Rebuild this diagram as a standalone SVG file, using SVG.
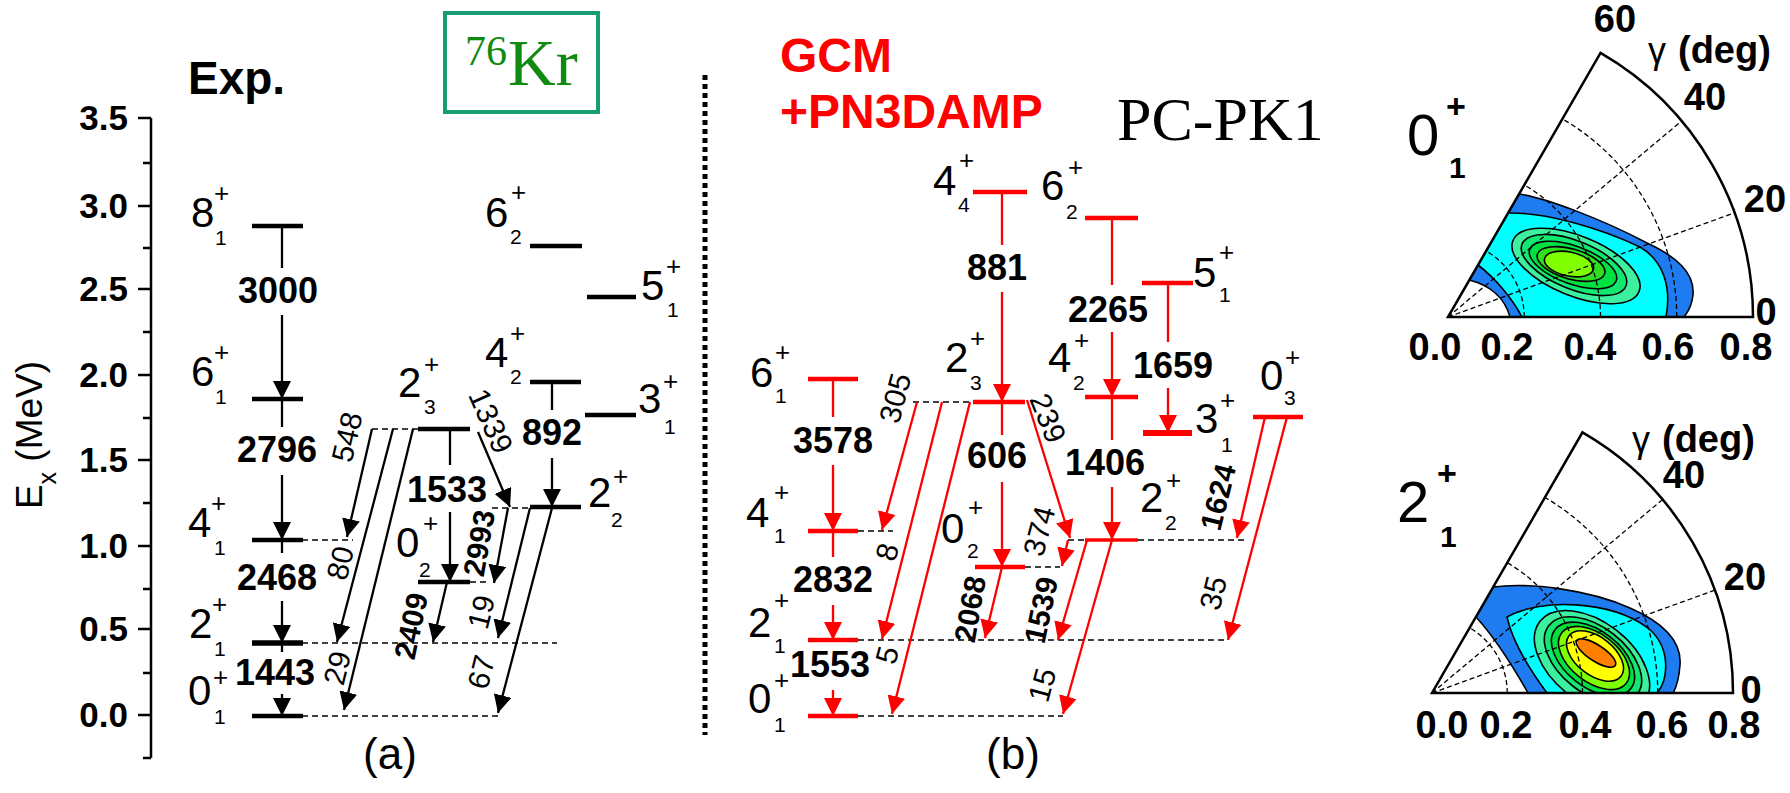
<svg xmlns="http://www.w3.org/2000/svg" width="1790" height="793" viewBox="0 0 1790 793">
<style>
text{font-family:"Liberation Sans",Arial,sans-serif;fill:#000}
.b{font-weight:bold}
.ax{stroke:#000;stroke-width:2.5;fill:none}
.lk{stroke:#000;stroke-width:4.5}
.lr{stroke:#f00;stroke-width:4.5}
.tk{stroke:#000;stroke-width:2.3;fill:none}
.tr{stroke:#f00;stroke-width:2.3;fill:none}
.ak{stroke:#000;stroke-width:2.3;fill:none;marker-end:url(#hk)}
.ar{stroke:#f00;stroke-width:2.3;fill:none;marker-end:url(#hr)}
.ds{stroke:#000;stroke-width:1.5;stroke-dasharray:6 4}
.big{font-size:42px}
.sp{font-size:26px}
.sb{font-size:21px}
.tl{font-size:36px;font-weight:bold;text-anchor:middle}
.rl{font-size:30px;text-anchor:middle}
.tick{font-size:35px;font-weight:bold;text-anchor:end}
.grid{stroke:#000;stroke-width:1.3;stroke-dasharray:5 3;fill:none}
.cl{stroke:#000;stroke-width:1.6}
.pl{font-size:38px;font-weight:bold;text-anchor:middle}
.sec{stroke:#000;stroke-width:2.5;fill:none}
.sf{font-family:"Liberation Serif","Times New Roman",serif}
.gr{fill:#118a11}
</style>
<defs>
<marker id="hk" markerUnits="userSpaceOnUse" markerWidth="18" markerHeight="18" viewBox="0 0 18 18" refX="18" refY="9" orient="auto"><path d="M0,0 L18,9 L0,18 Z" fill="#000"/></marker>
<marker id="hr" markerUnits="userSpaceOnUse" markerWidth="18" markerHeight="18" viewBox="0 0 18 18" refX="18" refY="9" orient="auto"><path d="M0,0 L18,9 L0,18 Z" fill="#f00"/></marker>
<clipPath id="c1"><path d="M1448,317 L1753,317 A305,305 0 0 0 1600.5,52.9 Z"/></clipPath>
<clipPath id="c2"><path d="M1432,693 L1733,693 A301,301 0 0 0 1582.5,432.3 Z"/></clipPath>
</defs>
<rect width="1790" height="793" fill="#fff"/>

<g id="axis">
<line class="ax" x1="151" y1="118" x2="151" y2="758"/>
<path class="ax" d="M138,118H151M143,163H151M138,206H151M143,248H151M138,289H151M143,332H151M138,375H151M143,418H151M138,460H151M143,503H151M138,546H151M143,589H151M138,629H151M143,673H151M138,715H151M143,758H151"/>
<text class="tick" x="128" y="130">3.5</text>
<text class="tick" x="128" y="218">3.0</text>
<text class="tick" x="128" y="301">2.5</text>
<text class="tick" x="128" y="387">2.0</text>
<text class="tick" x="128" y="472">1.5</text>
<text class="tick" x="128" y="558">1.0</text>
<text class="tick" x="128" y="641">0.5</text>
<text class="tick" x="128" y="727">0.0</text>
<text transform="translate(42,435) rotate(-90)" text-anchor="middle" font-size="37">E<tspan font-size="25" dy="14">x</tspan><tspan dy="-14"> (MeV)</tspan></text>
</g>

<text class="b" x="188" y="94" font-size="46">Exp.</text>
<g id="kr-box">
<rect x="445" y="13" width="153" height="99" fill="none" stroke="#179c74" stroke-width="4"/>
<text class="sf gr" x="465" y="65" font-size="42">76</text>
<text class="sf gr" x="508" y="85" font-size="66">Kr</text>
</g>
<line id="separator" x1="705" y1="75" x2="705" y2="735" stroke="#000" stroke-width="5" stroke-dasharray="5 4"/>
<text class="b" x="780" y="72" font-size="48" style="fill:#f00">GCM</text>
<text class="b" x="780" y="128" font-size="48" style="fill:#f00">+PN3DAMP</text>
<text class="sf" x="1117" y="140" font-size="62">PC-PK1</text>
<text x="390" y="769" font-size="44" text-anchor="middle">(a)</text>
<text x="1013" y="769" font-size="44" text-anchor="middle">(b)</text>

<g id="connectors">
<path class="ds" d="M302,540H353M302,643H557M302,716H498M372,429H418M470,582H487M492,508H530"/>
<line class="tk" x1="282" y1="226" x2="282" y2="268"/><line class="ak" x1="282" y1="315" x2="282" y2="399"/>
<line class="tk" x1="282" y1="399" x2="282" y2="427"/><line class="ak" x1="282" y1="475" x2="282" y2="540"/>
<line class="tk" x1="282" y1="540" x2="282" y2="553"/><line class="ak" x1="282" y1="601" x2="282" y2="643"/>
<line class="tk" x1="282" y1="643" x2="282" y2="652"/><line class="ak" x1="282" y1="694" x2="282" y2="716"/>
<line class="tk" x1="450" y1="429" x2="450" y2="465"/><line class="ak" x1="450" y1="512" x2="450" y2="582"/>
<line class="tk" x1="552" y1="382" x2="552" y2="410"/><line class="ak" x1="552" y1="458" x2="552" y2="507"/>
<text class="tl" x="278" y="303">3000</text>
<text class="tl" x="277" y="462">2796</text>
<text class="tl" x="277" y="590">2468</text>
<text class="tl" x="275" y="685">1443</text>
<text class="tl" x="447" y="502">1533</text>
<text class="tl" x="552" y="445">892</text>
<line class="ak" x1="372" y1="429" x2="347" y2="537"/>
<line class="ak" x1="393" y1="429" x2="337" y2="642"/>
<line class="ak" x1="413" y1="429" x2="344" y2="710"/>
<line class="ak" x1="478" y1="432" x2="510" y2="507"/>
<line class="ak" x1="508" y1="508" x2="494" y2="583"/>
<line class="ak" x1="447" y1="582" x2="433" y2="642"/>
<line class="ak" x1="530" y1="508" x2="498" y2="638"/>
<line class="ak" x1="552" y1="508" x2="498" y2="713"/>
<text class="rl" transform="translate(347,437) rotate(-77)" dy=".35em">548</text>
<text class="rl" transform="translate(340,563) rotate(-76)" dy=".35em">80</text>
<text class="rl" transform="translate(337,668) rotate(-76)" dy=".35em">29</text>
<text class="rl" transform="translate(491,421) rotate(66)" dy=".35em">1339</text>
<text class="rl b" transform="translate(479,543) rotate(-80)" dy=".35em">2993</text>
<text class="rl b" transform="translate(411,626) rotate(-78)" dy=".35em">2409</text>
<text class="rl" transform="translate(481,612) rotate(-76)" dy=".35em">19</text>
<text class="rl" transform="translate(481,672) rotate(-76)" dy=".35em">67</text>

<path class="ds" d="M858,531H893M858,640H1228M858,716H1063M913,402H973M1025,567H1060M1068,540H1248"/>
<line class="tr" x1="833" y1="379" x2="833" y2="417"/><line class="ar" x1="833" y1="465" x2="833" y2="531"/>
<line class="tr" x1="833" y1="531" x2="833" y2="557"/><line class="ar" x1="833" y1="605" x2="833" y2="640"/>
<line class="ar" x1="833" y1="690" x2="833" y2="716"/>
<line class="tr" x1="1002" y1="192" x2="1002" y2="245"/><line class="ar" x1="1002" y1="292" x2="1002" y2="402"/>
<line class="tr" x1="1002" y1="402" x2="1002" y2="435"/><line class="ar" x1="1002" y1="482" x2="1002" y2="567"/>
<line class="tr" x1="1112" y1="218" x2="1112" y2="285"/><line class="ar" x1="1112" y1="332" x2="1112" y2="397"/>
<line class="tr" x1="1112" y1="397" x2="1112" y2="440"/><line class="ar" x1="1112" y1="487" x2="1112" y2="540"/>
<line class="tr" x1="1168" y1="283" x2="1168" y2="342"/><line class="ar" x1="1168" y1="388" x2="1168" y2="433"/>
<text class="tl" x="833" y="453">3578</text>
<text class="tl" x="833" y="592">2832</text>
<text class="tl" x="830" y="677">1553</text>
<text class="tl" x="997" y="280">881</text>
<text class="tl" x="997" y="468">606</text>
<text class="tl" x="1108" y="322">2265</text>
<text class="tl" x="1105" y="475">1406</text>
<text class="tl" x="1173" y="378">1659</text>
<line class="ar" x1="917" y1="402" x2="882" y2="530"/>
<line class="ar" x1="942" y1="402" x2="882" y2="639"/>
<line class="ar" x1="970" y1="402" x2="892" y2="714"/>
<line class="ar" x1="1027" y1="400" x2="1070" y2="538"/>
<line class="ar" x1="1068" y1="540" x2="1062" y2="566"/>
<line class="ar" x1="1002" y1="567" x2="985" y2="638"/>
<line class="ar" x1="1087" y1="540" x2="1058" y2="640"/>
<line class="ar" x1="1112" y1="540" x2="1063" y2="714"/>
<line class="ar" x1="1265" y1="417" x2="1237" y2="538"/>
<line class="ar" x1="1287" y1="417" x2="1228" y2="640"/>
<text class="rl" transform="translate(895,398) rotate(-75)" dy=".35em">305</text>
<text class="rl" transform="translate(887,552) rotate(-75)" dy=".35em">8</text>
<text class="rl" transform="translate(887,655) rotate(-75)" dy=".35em">5</text>
<text class="rl" transform="translate(1048,418) rotate(68)" dy=".35em">239</text>
<text class="rl" transform="translate(1039,531) rotate(-75)" dy=".35em">374</text>
<text class="rl b" transform="translate(970,609) rotate(-80)" dy=".35em">2068</text>
<text class="rl b" transform="translate(1041,610) rotate(-78)" dy=".35em">1539</text>
<text class="rl" transform="translate(1042,685) rotate(-75)" dy=".35em">15</text>
<text class="rl b" transform="translate(1218,497) rotate(-76)" dy=".35em">1624</text>
<text class="rl" transform="translate(1213,593) rotate(-76)" dy=".35em">35</text>
</g>

<g id="e81"><line class="lk" x1="252" y1="226" x2="303" y2="226"/><text class="big" x="191" y="227">8</text><text class="sp" x="214" y="202">+</text><text class="sb" x="215" y="245">1</text></g>
<g id="e61"><line class="lk" x1="252" y1="399" x2="303" y2="399"/><text class="big" x="191" y="386">6</text><text class="sp" x="214" y="361">+</text><text class="sb" x="215" y="404">1</text></g>
<g id="e41"><line class="lk" x1="252" y1="540" x2="303" y2="540"/><text class="big" x="188" y="537">4</text><text class="sp" x="211" y="512">+</text><text class="sb" x="214" y="555">1</text></g>
<g id="e21"><line class="lk" x1="252" y1="643" x2="303" y2="643" style="stroke-width:5.5"/><text class="big" x="189" y="638">2</text><text class="sp" x="212" y="613">+</text><text class="sb" x="214" y="656">1</text></g>
<g id="e01"><line class="lk" x1="252" y1="716" x2="303" y2="716"/><text class="big" x="188" y="705">0</text><text class="sp" x="213" y="686">+</text><text class="sb" x="214" y="724">1</text></g>
<g id="e23"><line class="lk" x1="418" y1="429" x2="470" y2="429"/><text class="big" x="398" y="397">2</text><text class="sp" x="424" y="373">+</text><text class="sb" x="424" y="414">3</text></g>
<g id="e02"><line class="lk" x1="418" y1="582" x2="470" y2="582"/><text class="big" x="396" y="557">0</text><text class="sp" x="423" y="532">+</text><text class="sb" x="419" y="577">2</text></g>
<g id="e62"><line class="lk" x1="530" y1="246" x2="582" y2="246"/><text class="big" x="485" y="227">6</text><text class="sp" x="511" y="201">+</text><text class="sb" x="510" y="244">2</text></g>
<g id="e42"><line class="lk" x1="530" y1="382" x2="581" y2="382"/><text class="big" x="485" y="367">4</text><text class="sp" x="510" y="342">+</text><text class="sb" x="510" y="384">2</text></g>
<g id="e22"><line class="lk" x1="530" y1="507" x2="581" y2="507"/><text class="big" x="588" y="507">2</text><text class="sp" x="613" y="485">+</text><text class="sb" x="611" y="527">2</text></g>
<g id="e51"><line class="lk" x1="587" y1="297" x2="636" y2="297"/><text class="big" x="641" y="300">5</text><text class="sp" x="666" y="275">+</text><text class="sb" x="667" y="317">1</text></g>
<g id="e31"><line class="lk" x1="585" y1="415" x2="636" y2="415"/><text class="big" x="638" y="413">3</text><text class="sp" x="663" y="390">+</text><text class="sb" x="664" y="434">1</text></g>

<g id="t61"><line class="lr" x1="808" y1="379" x2="858" y2="379"/><text class="big" x="750" y="387">6</text><text class="sp" x="775" y="361">+</text><text class="sb" x="775" y="403">1</text></g>
<g id="t41"><line class="lr" x1="808" y1="531" x2="858" y2="531"/><text class="big" x="746" y="527">4</text><text class="sp" x="774" y="501">+</text><text class="sb" x="774" y="543">1</text></g>
<g id="t21"><line class="lr" x1="808" y1="640" x2="858" y2="640"/><text class="big" x="748" y="637">2</text><text class="sp" x="774" y="609">+</text><text class="sb" x="774" y="653">1</text></g>
<g id="t01"><line class="lr" x1="808" y1="716" x2="858" y2="716"/><text class="big" x="748" y="713">0</text><text class="sp" x="774" y="689">+</text><text class="sb" x="774" y="732">1</text></g>
<g id="t44"><line class="lr" x1="973" y1="192" x2="1027" y2="192"/><text class="big" x="933" y="195">4</text><text class="sp" x="959" y="169">+</text><text class="sb" x="958" y="212">4</text></g>
<g id="t23"><line class="lr" x1="973" y1="402" x2="1025" y2="402"/><text class="big" x="945" y="372">2</text><text class="sp" x="970" y="347">+</text><text class="sb" x="970" y="390">3</text></g>
<g id="t02"><line class="lr" x1="975" y1="567" x2="1025" y2="567"/><text class="big" x="941" y="543">0</text><text class="sp" x="968" y="516">+</text><text class="sb" x="967" y="558">2</text></g>
<g id="t62"><line class="lr" x1="1085" y1="218" x2="1138" y2="218"/><text class="big" x="1041" y="200">6</text><text class="sp" x="1068" y="176">+</text><text class="sb" x="1066" y="219">2</text></g>
<g id="t42"><line class="lr" x1="1085" y1="397" x2="1138" y2="397"/><text class="big" x="1048" y="372">4</text><text class="sp" x="1074" y="349">+</text><text class="sb" x="1073" y="390">2</text></g>
<g id="t22"><line class="lr" x1="1085" y1="540" x2="1138" y2="540" style="stroke-width:3.5"/><text class="big" x="1140" y="512">2</text><text class="sp" x="1166" y="489">+</text><text class="sb" x="1165" y="530">2</text></g>
<g id="t51"><line class="lr" x1="1142" y1="283" x2="1193" y2="283"/><text class="big" x="1193" y="287">5</text><text class="sp" x="1219" y="261">+</text><text class="sb" x="1219" y="302">1</text></g>
<g id="t31"><line class="lr" x1="1143" y1="433" x2="1192" y2="433" style="stroke-width:6"/><text class="big" x="1195" y="433">3</text><text class="sp" x="1220" y="409">+</text><text class="sb" x="1221" y="452">1</text></g>
<g id="t03"><line class="lr" x1="1253" y1="417" x2="1303" y2="417"/><text class="big" x="1260" y="390">0</text><text class="sp" x="1285" y="366">+</text><text class="sb" x="1284" y="405">3</text></g>

<g id="polar-01">
<g clip-path="url(#c1)">
<path d="M1519,194 C1545,198 1600,218 1647,243 C1675,256 1695,272 1693,295 C1692,305 1688,312 1684,317 L1510,317 C1505,298 1490,285 1469,280 Z" fill="#1e7cf0" class="cl"/>
<path d="M1508,213 C1545,212 1600,228 1640,247 C1662,260 1672,285 1666,317 L1522,317 C1512,298 1495,278 1478,265 Z" fill="#00ffff" class="cl"/>
<ellipse cx="1576" cy="266" rx="68" ry="30" transform="rotate(22 1576 266)" fill="#3cf0a0" class="cl"/>
<ellipse cx="1574" cy="265" rx="56" ry="24" transform="rotate(22 1574 265)" fill="#10e870" class="cl"/>
<ellipse cx="1573" cy="265" rx="46" ry="19" transform="rotate(20 1573 265)" fill="#00e040" class="cl"/>
<ellipse cx="1571" cy="264" rx="35" ry="15" transform="rotate(16 1571 264)" fill="#30e020" class="cl"/>
<ellipse cx="1569" cy="264" rx="25" ry="12" transform="rotate(12 1569 264)" fill="#80ff00" class="cl"/>
</g>
<path class="grid" d="M1524.25,317 A76.25,76.25 0 0 0 1486.1,251 M1600.5,317 A152.5,152.5 0 0 0 1524.25,184.9 M1676.75,317 A228.75,228.75 0 0 0 1562.4,118.9 M1448,317 L1734.6,212.7 M1448,317 L1681.6,121"/>
<path class="sec" d="M1448,317 L1753,317 A305,305 0 0 0 1600.5,52.9 Z"/>
<text class="pl" x="1615" y="32">60</text>
<text x="1648" y="63" font-size="36">γ</text>
<text x="1678" y="63" font-size="38" class="b">(deg)</text>
<text class="pl" x="1705" y="110">40</text>
<text class="pl" x="1765" y="212">20</text>
<text class="pl" x="1766" y="325">0</text>
<text class="pl" x="1435" y="360">0.0</text>
<text class="pl" x="1507" y="360">0.2</text>
<text class="pl" x="1590" y="360">0.4</text>
<text class="pl" x="1668" y="360">0.6</text>
<text class="pl" x="1746" y="360">0.8</text>
<text x="1407" y="155" font-size="58">0</text>
<text x="1446" y="118" font-size="34" class="b">+</text>
<text x="1449" y="178" font-size="30" class="b">1</text>
</g>

<g id="polar-21">
<g clip-path="url(#c2)">
<path d="M1493,587 C1530,582 1590,590 1630,608 C1662,622 1682,640 1680,665 C1679,678 1676,688 1673,693 L1528,693 C1515,670 1497,640 1476,617 Z" fill="#1e7cf0" class="cl"/>
<path d="M1507,617 C1540,598 1610,600 1648,628 C1672,648 1668,680 1657,693 L1547,693 C1530,670 1512,640 1507,617 Z" fill="#00ffff" class="cl"/>
<ellipse cx="1592" cy="662" rx="66" ry="40" transform="rotate(38 1592 662)" fill="#3cf0a0" class="cl"/>
<ellipse cx="1593" cy="660" rx="56" ry="33" transform="rotate(38 1593 660)" fill="#10e870" class="cl"/>
<ellipse cx="1593" cy="659" rx="48" ry="28" transform="rotate(38 1593 659)" fill="#00e040" class="cl"/>
<ellipse cx="1594" cy="658" rx="41" ry="24" transform="rotate(38 1594 658)" fill="#80ff00" class="cl"/>
<ellipse cx="1595" cy="656" rx="33" ry="19" transform="rotate(38 1595 656)" fill="#ffff00" class="cl"/>
<ellipse cx="1596" cy="653" rx="23" ry="8" transform="rotate(33 1596 653)" fill="#ff8000" class="cl"/>
</g>
<path class="grid" d="M1507.25,693 A75.25,75.25 0 0 0 1469.6,627.8 M1582.5,693 A150.5,150.5 0 0 0 1507.25,562.7 M1657.75,693 A225.75,225.75 0 0 0 1544.9,497.5 M1432,693 L1714.8,590.1 M1432,693 L1662.6,499.5"/>
<path class="sec" d="M1432,693 L1733,693 A301,301 0 0 0 1582.5,432.3 Z"/>
<text x="1632" y="452" font-size="36">γ</text>
<text x="1662" y="452" font-size="38" class="b">(deg)</text>
<text class="pl" x="1684" y="488">40</text>
<text class="pl" x="1745" y="590">20</text>
<text class="pl" x="1751" y="703">0</text>
<text class="pl" x="1442" y="738">0.0</text>
<text class="pl" x="1506" y="738">0.2</text>
<text class="pl" x="1585" y="738">0.4</text>
<text class="pl" x="1662" y="738">0.6</text>
<text class="pl" x="1734" y="738">0.8</text>
<text x="1397" y="522" font-size="58">2</text>
<text x="1437" y="485" font-size="34" class="b">+</text>
<text x="1440" y="547" font-size="30" class="b">1</text>
</g>
</svg>
